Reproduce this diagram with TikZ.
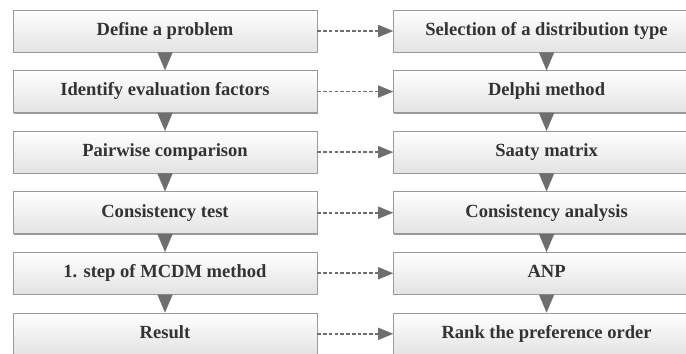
\documentclass[tikz,border=0pt]{standalone}
\usepackage{fontspec}
\setmainfont{Liberation Serif}
\usetikzlibrary{positioning,arrows.meta,shadows}
\definecolor{boxline}{HTML}{9A9A9A}
\definecolor{tipgray}{HTML}{6E6E6E}
\definecolor{txtgray}{HTML}{333333}
\begin{document}
\begin{tikzpicture}[node distance=0.45cm,
  every node/.style={draw=boxline, rectangle, minimum width=7.6cm, minimum height=1.05cm,
    text height=1.9ex, text depth=0.55ex,
    top color=white, bottom color=gray!22, text=txtgray,
    font=\fontsize{13.2}{15}\selectfont\bfseries,
    drop shadow={shadow xshift=0.6pt, shadow yshift=-0.8pt, fill=gray!80, opacity=1}},
  wide/.style={minimum width=7.65cm},
  flow/.style={draw=tipgray, fill=tipgray, line width=0.1pt, -{Triangle[width=0.38cm,length=0.45cm]}},
  link/.style={draw=tipgray, line width=1.3pt, dash pattern=on 2.6pt off 1.5pt, -{Triangle[width=0.3cm,length=0.38cm]}}]
  \useasboundingbox (0,0) rectangle (17.15,-8.825);
  \clip (0,0) rectangle (17.15,-8.825);
  % method steps
  \node (define) at (4.125,-0.775) {Define a problem};
  \node (identify) [below=of define] {Identify evaluation factors};
  \node (pairwise) [below=of identify] {Pairwise comparison};
  \node (consistency) [below=of pairwise] {Consistency test};
  \node (mcdm) [below=of consistency] {1. step of MCDM method};
  \node (result) [below=of mcdm] {Result};
  % applied tools
  \node (selection) [wide, right=1.9cm of define] {Selection of a distribution type};
  \node (delphi) [wide, below=of selection] {Delphi method};
  \node (saaty) [wide, below=of delphi] {Saaty matrix};
  \node (analysis) [wide, below=of saaty] {Consistency analysis};
  \node (anp) [wide, below=of analysis] {ANP};
  \node (rank) [wide, below=of anp] {Rank the preference order};
  \foreach \a/\b in {define/identify, identify/pairwise, pairwise/consistency, consistency/mcdm, mcdm/result,
                     selection/delphi, delphi/saaty, saaty/analysis, analysis/anp, anp/rank}
    \draw[flow] (\a.south) -- (\b.north);
  \foreach \a/\b in {define/selection, identify/delphi, pairwise/saaty, consistency/analysis, mcdm/anp, result/rank}
    \draw[link] (\a.east) -- (\b.west);
\end{tikzpicture}
\end{document}
